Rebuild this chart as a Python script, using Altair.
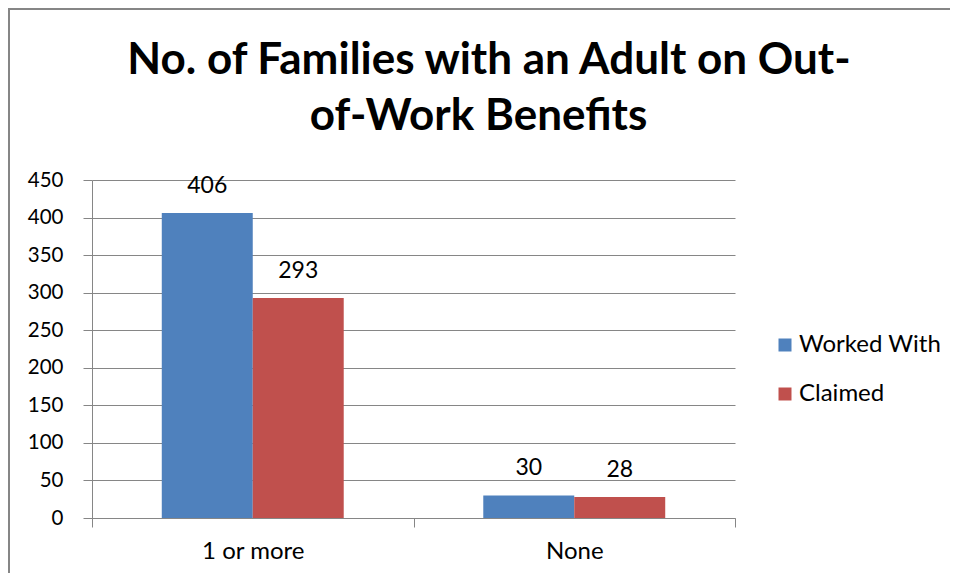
import altair as alt
import pandas as pd

categories = ["1 or more", "None"]
series = ["Worked With", "Claimed"]
worked_with = [406, 30]
claimed = [293, 28]
colors = ["#4F81BD", "#C0504D"]
y_ticks = list(range(0, 451, 50))
title_lines = ["No. of Families with an Adult on Out-", "of-Work Benefits"]

rows = []
for i, c in enumerate(categories):
    rows.append({"category": c, "series": series[0], "value": worked_with[i]})
    rows.append({"category": c, "series": series[1], "value": claimed[i]})
df = pd.DataFrame(rows)

FONT = "Lato"
GRAY = "#868686"

x = alt.X(
    "category:N", sort=categories,
    scale=alt.Scale(paddingInner=0, paddingOuter=0),
    axis=alt.Axis(title=None, labelAngle=0, tickBand="extent", grid=False,
                  domainColor=GRAY, tickColor=GRAY, tickSize=9,
                  labelFontSize=24, labelColor="#000000", labelPadding=12,
                  labelFont=FONT),
)
xo = alt.XOffset("series:N", sort=series,
                 scale=alt.Scale(domain=series, paddingInner=0, paddingOuter=0.767))
y = alt.Y(
    "value:Q",
    scale=alt.Scale(domain=[0, 450], nice=False),
    axis=alt.Axis(title=None, values=y_ticks, grid=True, gridColor=GRAY,
                  domainColor=GRAY, tickColor=GRAY, tickSize=9,
                  labelFontSize=20.5, labelColor="#000000", labelPadding=20,
                  labelFont=FONT),
)
color = alt.Color(
    "series:N", sort=series,
    scale=alt.Scale(domain=series, range=colors),
    legend=alt.Legend(title=None, orient="none", legendX=681, legendY=153,
                      symbolType="square", symbolSize=169, symbolStrokeWidth=0,
                      labelFontSize=24, labelFont=FONT, labelColor="#000000",
                      rowPadding=25, labelOffset=2, padding=0),
)

base = alt.Chart(df)
bars = base.mark_bar(stroke=None).encode(x=x, xOffset=xo, y=y, color=color)
labels = base.mark_text(baseline="alphabetic", dy=-20, fontSize=23, font=FONT,
                        color="#000000").encode(
    x=x, xOffset=xo, y=y, text=alt.Text("value:Q"))

frame_df = pd.DataFrame({"k": [0]})
top_border = alt.Chart(frame_df).mark_rule(color=GRAY, strokeWidth=2).encode(
    x=alt.value(-84), x2=alt.value(900), y=alt.value(-171))
left_border = alt.Chart(frame_df).mark_rule(color=GRAY, strokeWidth=2).encode(
    x=alt.value(-83), y=alt.value(-172), y2=alt.value(500))

title1 = alt.Chart(frame_df).mark_text(
    font=FONT, fontSize=44, fontWeight="bold", color="#000000",
    align="center", baseline="alphabetic").encode(
    x=alt.value(397), y=alt.value(-106.5), text=alt.value(title_lines[0]))
title2 = alt.Chart(frame_df).mark_text(
    font=FONT, fontSize=44, fontWeight="bold", color="#000000",
    align="center", baseline="alphabetic").encode(
    x=alt.value(386.5), y=alt.value(-50), text=alt.value(title_lines[1]))

chart = alt.layer(bars, labels, top_border, left_border, title1, title2).properties(
    width=643, height=338,
    autosize=alt.AutoSizeParams(type="none"),
    padding={"left": 84, "top": 172, "right": 215, "bottom": 55},
).configure_view(stroke=None)

chart.save("out.html", embed_options={"renderer": "svg", "actions": False})
